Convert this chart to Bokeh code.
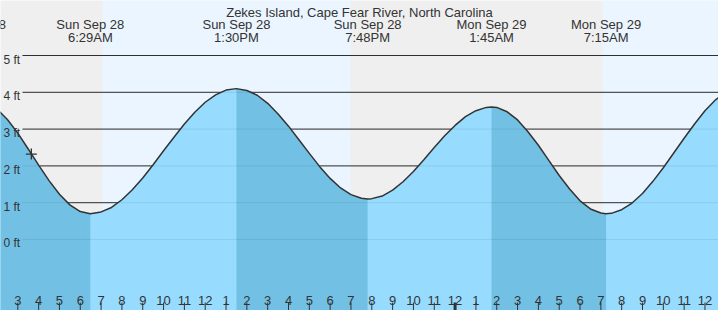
from bokeh.plotting import figure
from bokeh.models import Range1d
from bokeh.core.properties import value
from bokeh.embed import file_html
from bokeh.resources import INLINE

title_text = "Zekes Island, Cape Fear River, North Carolina"

# tide curve: hours since Sun Sep 28 00:00, height (ft)
tide_hours = [2.0, 2.5, 3.0, 3.5, 4.0, 4.5, 5.0, 5.5, 6.0, 6.483,
              7.0, 7.5, 8.0, 8.5, 9.0, 9.5, 10.0, 10.5, 11.0, 11.5, 12.0, 12.5, 13.0, 13.5,
              14.0, 14.5, 15.0, 15.5, 16.0, 16.5, 17.0, 17.5, 18.0, 18.5, 19.0, 19.5, 19.8,
              20.0, 20.5, 21.0, 21.5, 22.0, 22.5, 23.0, 23.5, 24.0, 24.5, 25.0, 25.5, 25.75,
              26.0, 26.5, 27.0, 27.5, 28.0, 28.5, 29.0, 29.5, 30.0, 30.5, 31.0, 31.25,
              31.5, 32.0, 32.5, 33.0, 33.5, 34.0, 34.5, 35.0, 35.5, 36.0, 36.5, 37.0]
tide_feet = [3.55, 3.26, 2.89, 2.46, 2.02, 1.60, 1.23, 0.94, 0.76, 0.70,
             0.75, 0.87, 1.08, 1.35, 1.67, 2.03, 2.41, 2.78, 3.14, 3.46, 3.73, 3.93, 4.06, 4.10,
             4.05, 3.92, 3.70, 3.41, 3.08, 2.71, 2.34, 1.98, 1.66, 1.40, 1.22, 1.12, 1.10,
             1.11, 1.18, 1.34, 1.57, 1.85, 2.17, 2.50, 2.82, 3.10, 3.34, 3.50, 3.59, 3.60,
             3.59, 3.47, 3.25, 2.93, 2.56, 2.15, 1.74, 1.37, 1.05, 0.83, 0.72, 0.70,
             0.71, 0.81, 0.99, 1.25, 1.58, 1.95, 2.35, 2.75, 3.14, 3.50, 3.79, 4.01]

# high / low tides
extreme_hours = [0.8, 6.483, 13.5, 19.8, 25.75, 31.25]
extreme_kind = ["H", "L", "H", "L", "H", "L"]
extreme_days = ["Sun Sep 28", "Sun Sep 28", "Sun Sep 28", "Sun Sep 28", "Mon Sep 29", "Mon Sep 29"]
extreme_times = ["12:48AM", "6:29AM", "1:30PM", "7:48PM", "1:45AM", "7:15AM"]

# daylight periods (hours)
day_start = [7.07, 31.08]
day_end = [18.98, 43.0]

# current time marker
now_hour = [3.65]
now_feet = [2.32]

# y grid
ft_levels = [0, 1, 2, 3, 4, 5]
ft_labels = ["0 ft", "1 ft", "2 ft", "3 ft", "4 ft", "5 ft"]

# hour ticks
hour_ticks = [3, 4, 5, 6, 7, 8, 9, 10, 11, 12, 13, 14, 15, 16, 17, 18, 19, 20, 21, 22, 23, 24,
              25, 26, 27, 28, 29, 30, 31, 32, 33, 34, 35, 36]
hour_labels = ["3", "4", "5", "6", "7", "8", "9", "10", "11", "12", "1", "2", "3", "4", "5", "6",
               "7", "8", "9", "10", "11", "12", "1", "2", "3", "4", "5", "6", "7", "8", "9", "10",
               "11", "12"]

W, H = 718, 310
X0, X1 = 2.169, 36.65
Y0, Y1 = -1.93, 6.495
ppx = W / (X1 - X0)
ppy = H / (Y1 - Y0)


def py(pix):
    return Y1 - pix / ppy


def px(pix):
    return X0 + pix / ppx


FONT = value("Liberation Sans")
TXT = "#333333"

p = figure(width=W, height=H, x_range=Range1d(X0, X1), y_range=Range1d(Y0, Y1),
           output_backend="svg", toolbar_location=None, min_border=0,
           x_axis_type=None, y_axis_type=None)
p.outline_line_color = None
p.background_fill_color = "#EFEFEF"
p.border_fill_color = "#EFEFEF"

# daylight
p.quad(left=day_start, right=day_end, bottom=Y0, top=Y1, fill_color="#EBF5FF", line_color=None)

# dark grid lines
gx0 = px(22)
p.segment(x0=[gx0] * len(ft_levels), y0=ft_levels, x1=[X1] * len(ft_levels), y1=ft_levels,
          line_color="#333333", line_width=1)

# water (rising = light, falling = dark)
p.varea(x=tide_hours, y1=Y0, y2=tide_feet, fill_color="#97DCFF")
for i in range(len(extreme_hours) - 1):
    if extreme_kind[i] == "H":
        a, b = extreme_hours[i], extreme_hours[i + 1]
        sx = [t for t in tide_hours if a <= t <= b]
        sy = [f for t, f in zip(tide_hours, tide_feet) if a <= t <= b]
        if sx:
            p.varea(x=sx, y1=Y0, y2=sy, fill_color="#72C1E5")

# faint grid lines over water
p.segment(x0=[gx0] * len(ft_levels), y0=ft_levels, x1=[X1] * len(ft_levels), y1=ft_levels,
          line_color="#000000", line_alpha=0.08, line_width=1)

# tide curve
p.line(tide_hours, tide_feet, line_color="#333333", line_width=1.5)
p.scatter(x=now_hour, y=now_feet, marker="cross", size=11, line_color="#333333", line_width=1.3)

# ft labels
p.text(x=[px(3)] * len(ft_levels), y=[l - 4 / ppy for l in ft_levels], text=ft_labels,
       text_align="left", text_baseline="alphabetic", text_font=FONT, text_font_size="12px",
       text_color=TXT)

# hour ticks & labels
tick_w = [3 if h % 24 == 0 else 1 for h in hour_ticks]
p.rect(x=hour_ticks, y=Y0, width=tick_w, height=16, width_units="screen", height_units="screen",
       fill_color="#333333", line_color=None)
p.text(x=hour_ticks, y=[py(300)] * len(hour_ticks), text=hour_labels, text_align="center",
       text_baseline="alphabetic", text_font=FONT, text_font_size="13px", text_color=TXT)

# extreme labels
p.text(x=extreme_hours, y=[py(24.3)] * len(extreme_hours), text=extreme_days, text_align="center",
       text_baseline="alphabetic", text_font=FONT, text_font_size="13px", text_color=TXT)
p.text(x=extreme_hours, y=[py(36.7)] * len(extreme_hours), text=extreme_times, text_align="center",
       text_baseline="alphabetic", text_font=FONT, text_font_size="13px", text_color=TXT)

# title
p.text(x=[(X0 + X1) / 2], y=[py(11.7)], text=[title_text], text_align="center",
       text_baseline="alphabetic", text_font=FONT, text_font_size="13px", text_color=TXT)

open("out.html", "w").write(file_html(p, INLINE))
